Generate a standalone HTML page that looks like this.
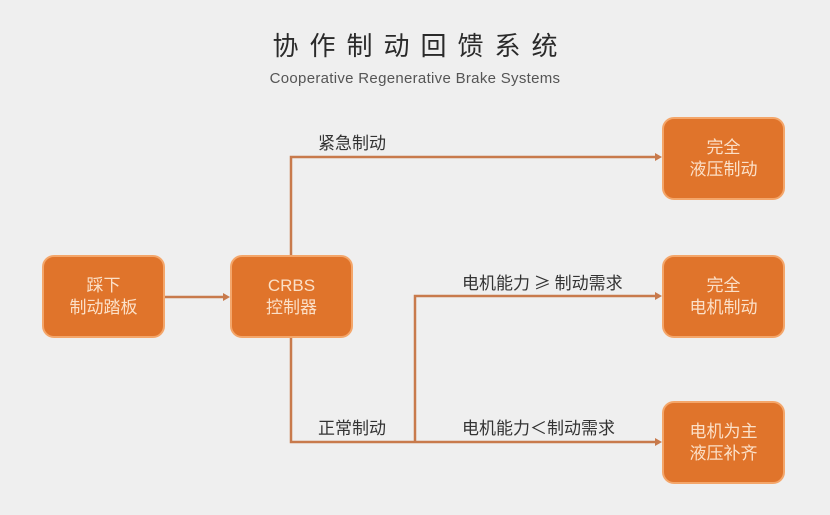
<!DOCTYPE html>
<html><head><meta charset="utf-8"><style>
body{margin:0;width:830px;height:515px;background:#efefef;overflow:hidden;position:relative;font-family:"Liberation Sans","Noto Sans CJK SC",sans-serif}
.t{position:absolute;left:0;width:830px;text-align:center;color:#333}
.b{position:absolute;background:#e0742b;border:2px solid #f4a66a;border-radius:12px;color:#fbe0c8;font-size:17px;line-height:22px;display:flex;align-items:center;justify-content:center;text-align:center;box-sizing:border-box;width:123px;height:83px}
.l{position:absolute;font-size:17px;color:#333;font-family:"Noto Sans CJK SC",sans-serif;line-height:20px}
</style></head><body>
<div class="t" style="top:26px;font-size:26px;letter-spacing:11px;text-indent:11px;font-family:'Noto Sans CJK SC',sans-serif;font-weight:400;color:#2a2a2a">协作制动回馈系统</div>
<div class="t" style="top:70px;font-size:15px;color:#555;letter-spacing:0.3px">Cooperative Regenerative Brake Systems</div>
<svg width="830" height="515" style="position:absolute;left:0;top:0">
<g stroke="#c87a4c" stroke-width="2.5" fill="none">
<path d="M165 297H226"/>
<path d="M291 255V157H658"/>
<path d="M291 338V442H658"/>
<path d="M415 442V296H658"/>
</g>
<g fill="#c87a4c">
<path d="M230 297l-7-4v8z"/>
<path d="M662 157l-7-4v8z"/>
<path d="M662 296l-7-4v8z"/>
<path d="M662 442l-7-4v8z"/>
</g>
</svg>
<div class="b" style="left:42px;top:255px">踩下<br>制动踏板</div>
<div class="b" style="left:230px;top:255px">CRBS<br>控制器</div>
<div class="b" style="left:662px;top:117px">完全<br>液压制动</div>
<div class="b" style="left:662px;top:255px">完全<br>电机制动</div>
<div class="b" style="left:662px;top:401px">电机为主<br>液压补齐</div>
<div class="l" style="left:318px;top:132px">紧急制动</div>
<div class="l" style="left:462px;top:272px">电机能力 ≥ 制动需求</div>
<div class="l" style="left:318px;top:417px">正常制动</div>
<div class="l" style="left:462px;top:417px">电机能力＜制动需求</div>
</body></html>
